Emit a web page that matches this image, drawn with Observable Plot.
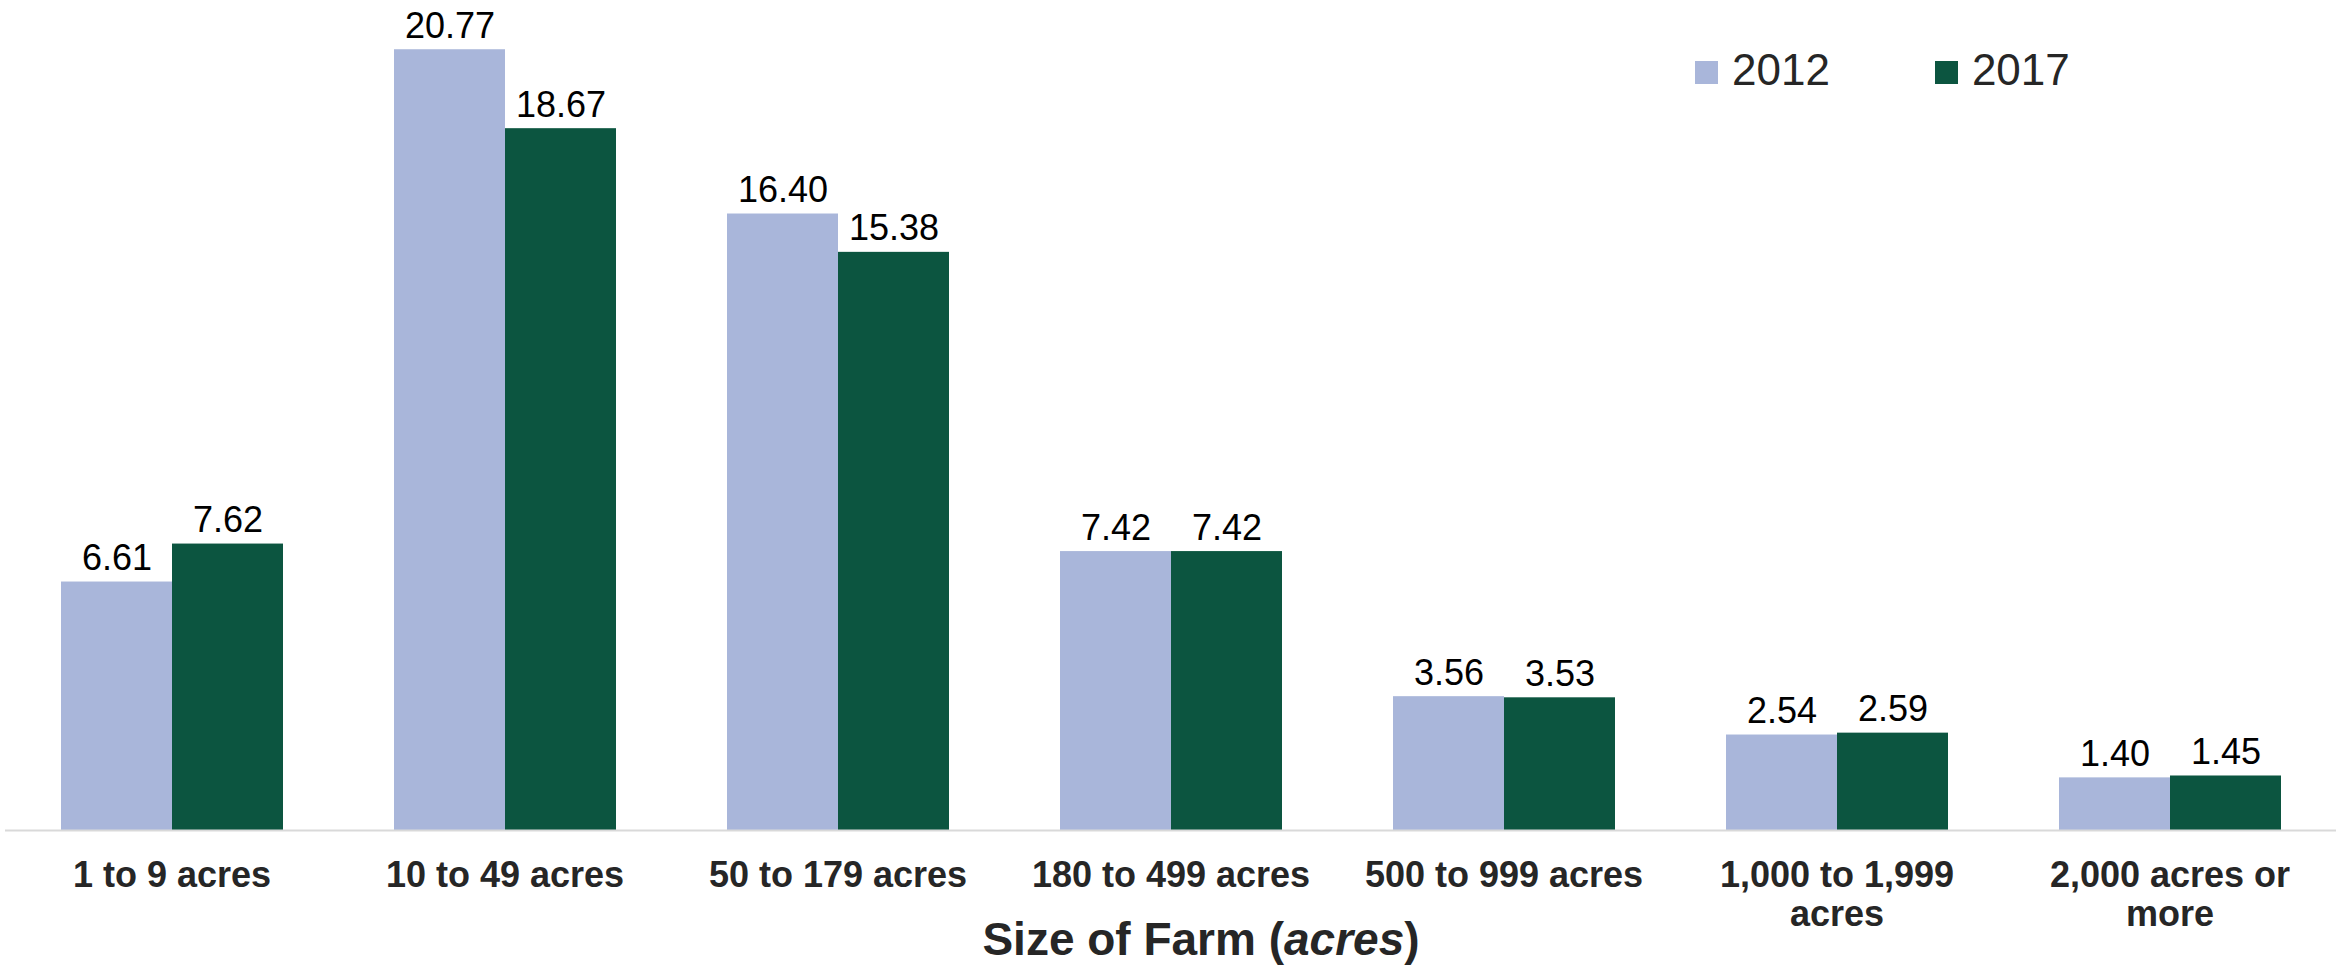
<!DOCTYPE html>
<html>
<head>
<meta charset="utf-8">
<script src="https://cdn.jsdelivr.net/npm/d3@7"></script>
<script src="https://cdn.jsdelivr.net/npm/@observablehq/plot@0.6"></script>
<style>
  html, body { margin: 0; padding: 0; background: #fff; }
  #wrap { position: relative; width: 2336px; height: 966px; font-family: "Liberation Sans", Arial, sans-serif; }
  #chart svg { display: block; }
  #chart g[aria-label="fx-axis tick label"] { font-weight: bold; }
  .legend { position: absolute; left: 1695px; top: 48px; display: flex; align-items: center; font-size: 44px; line-height: 44px; color: #262626; }
  .legend .item { display: flex; align-items: center; }
  .legend .item + .item { margin-left: 105px; }
  .legend .sw { width: 23px; height: 23px; margin-right: 14px; margin-top: 4px; }
  .xtitle { position: absolute; left: 1201px; top: 916px; transform: translateX(-50%); font-size: 46px; line-height: 46px; font-weight: bold; color: #262626; white-space: nowrap; }
</style>
</head>
<body>
<div id="wrap">
  <div id="chart"></div>
  <div class="legend" id="legend"></div>
  <div class="xtitle">Size of Farm (<i>acres</i>)</div>
</div>
<script>
const categories = ["1 to 9 acres", "10 to 49 acres", "50 to 179 acres", "180 to 499 acres", "500 to 999 acres", "1,000 to 1,999 acres", "2,000 acres or more"];
const tickLabels = ["1 to 9 acres", "10 to 49 acres", "50 to 179 acres", "180 to 499 acres", "500 to 999 acres", "1,000 to 1,999\nacres", "2,000 acres or\nmore"];
const years = ["2012", "2017"];
const values2012 = [6.61, 20.77, 16.40, 7.42, 3.56, 2.54, 1.40];
const values2017 = [7.62, 18.67, 15.38, 7.42, 3.53, 2.59, 1.45];
const colors = ["#A9B6DA", "#0C5540"];

const data = categories.flatMap((c, i) => [
  {category: c, year: years[0], value: values2012[i]},
  {category: c, year: years[1], value: values2017[i]}
]);

const chart = Plot.plot({
  width: 2336,
  height: 966,
  marginTop: 3,
  marginBottom: 136,
  marginLeft: 4,
  marginRight: 0,
  style: {fontFamily: '"Liberation Sans", Arial, sans-serif', fontSize: "36px", color: "#000", background: "#fff"},
  fx: {domain: categories, paddingInner: 0, paddingOuter: 0, label: null, axis: null},
  x: {domain: years, paddingInner: 0, paddingOuter: 0.5, axis: null},
  y: {domain: [0, 22], axis: null},
  color: {domain: years, range: colors},
  marks: [
    Plot.barY(data, {fx: "category", x: "year", y: "value", fill: "year"}),
    Plot.ruleY([0], {stroke: "#d9d9d9", strokeWidth: 2}),
    Plot.text(data, {fx: "category", x: "year", y: "value", text: d => d.value.toFixed(2), lineAnchor: "bottom", dy: -12, fill: "#000", fontSize: 36}),
    Plot.axisFx({anchor: "bottom", tickSize: 0, tickPadding: 28, tickFormat: d => tickLabels[categories.indexOf(d)], fontSize: 36, fontWeight: "bold", lineHeight: 1.1, fill: "#262626", label: null})
  ]
});
document.getElementById("chart").appendChild(chart);

const legend = document.getElementById("legend");
years.forEach((y, i) => {
  const item = document.createElement("div");
  item.className = "item";
  const sw = document.createElement("div");
  sw.className = "sw";
  sw.style.background = colors[i];
  const t = document.createElement("span");
  t.textContent = y;
  item.appendChild(sw);
  item.appendChild(t);
  legend.appendChild(item);
});
</script>
</body>
</html>
